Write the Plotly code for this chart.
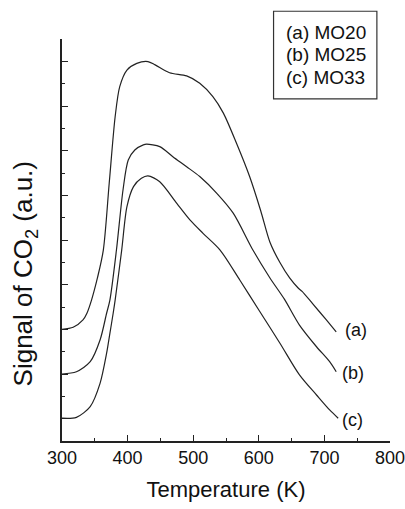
import plotly.graph_objects as go

# Temperature (K) and CO2 signal (a.u., offset curves)
temp_a = [300, 317, 332, 338, 345, 354, 363, 372, 381, 388, 399, 414, 431, 442, 464, 490, 510, 530, 546, 566, 586, 603, 617, 632, 647, 660, 666, 682, 703, 718]
sig_a = [5.00, 5.09, 5.42, 5.72, 6.31, 7.30, 8.55, 11.55, 14.52, 15.87, 16.61, 16.91, 16.99, 16.84, 16.49, 16.35, 16.02, 15.42, 14.68, 13.33, 11.84, 10.30, 8.90, 8.00, 7.30, 6.85, 6.70, 6.15, 5.42, 4.89]

temp_b = [300, 322, 343, 358, 368, 373, 383, 393, 401, 411, 424, 429, 449, 469, 490, 510, 536, 561, 591, 617, 639, 662, 688, 708, 718]
sig_b = [3.00, 3.10, 3.55, 4.52, 5.72, 6.31, 8.55, 11.24, 12.58, 13.03, 13.26, 13.29, 13.18, 12.73, 12.28, 11.84, 11.09, 10.20, 8.55, 7.30, 6.35, 5.19, 4.22, 3.55, 3.10]

temp_c = [300, 322, 343, 358, 368, 373, 378, 381, 391, 399, 409, 421, 431, 449, 475, 495, 515, 541, 571, 601, 632, 662, 688, 708, 721]
sig_c = [1.02, 1.06, 1.54, 2.58, 3.93, 4.82, 5.72, 6.31, 8.55, 10.49, 11.39, 11.76, 11.87, 11.61, 10.64, 9.90, 9.30, 8.55, 7.21, 5.82, 4.39, 2.96, 2.06, 1.39, 1.02]

curve_labels = ["(a)", "(b)", "(c)"]
label_pos_x = [748, 743, 743]
label_pos_y = [4.97, 3.05, 0.94]
legend_lines = ["(a) MO20", "(b) MO25", "(c) MO33"]

x_ticks = [300, 400, 500, 600, 700, 800]

FONT = "Liberation Sans, Arial, Helvetica, sans-serif"
LINE = "#222222"

fig = go.Figure()
for t, s in [(temp_a, sig_a), (temp_b, sig_b), (temp_c, sig_c)]:
    fig.add_trace(go.Scatter(x=t, y=s, mode="lines",
                             line=dict(color=LINE, width=1.2, shape="spline", smoothing=0.8),
                             showlegend=False, hoverinfo="skip"))

for lab, lx, ly in zip(curve_labels, label_pos_x, label_pos_y):
    fig.add_annotation(x=lx, y=ly, xref="x", yref="y", text=lab, showarrow=False,
                       font=dict(family=FONT, size=18, color="#111"), xanchor="center", yanchor="middle")

# legend box
legend_y = [1.015, 0.961, 0.903]
for txt, ly in zip(legend_lines, legend_y):
    fig.add_annotation(x=0.676, y=ly, xref="paper", yref="paper", text=txt, showarrow=False,
                       font=dict(family=FONT, size=19, color="#111"), xanchor="left", yanchor="middle")
fig.add_shape(type="rect", xref="paper", yref="paper", x0=0.645, x1=0.960, y0=0.851, y1=1.069,
              line=dict(color="#333", width=1.2), fillcolor="rgba(0,0,0,0)")

# y-axis title
fig.add_annotation(x=-0.115, y=0.415, xref="paper", yref="paper", text="Signal of CO<sub>2</sub> (a.u.)",
                   textangle=-90, showarrow=False, xanchor="center", yanchor="middle",
                   font=dict(family=FONT, size=26, color="#111"))

fig.update_layout(
    width=405, height=509,
    margin=dict(l=62, r=14.5, t=39.3, b=68),
    paper_bgcolor="white", plot_bgcolor="white",
    font=dict(family=FONT, color="#111"),
)
fig.update_xaxes(range=[300, 800], tickvals=x_ticks, ticks="inside", ticklen=6, tickwidth=1.2,
                 tickcolor="#222", showgrid=False, zeroline=False, showline=True, linecolor="#222",
                 linewidth=1.5, tickfont=dict(family=FONT, size=18, color="#111"),
                 ticklabeloverflow="allow", automargin=False,
                 minor=dict(dtick=50, tick0=300, ticks="inside", ticklen=3, tickcolor="#222", tickwidth=1.2),
                 title=dict(text="Temperature (K)", font=dict(family=FONT, size=22, color="#111"), standoff=14))
fig.update_yaxes(range=[0, 18], tick0=1, dtick=2, ticks="inside", ticklen=6, tickwidth=1.2,
                 tickcolor="#222", showticklabels=False, showgrid=False, zeroline=False,
                 showline=True, linecolor="#222", linewidth=1.5, automargin=False,
                 minor=dict(dtick=1, tick0=0, ticks="inside", ticklen=3, tickcolor="#222", tickwidth=1.2))

fig.write_html("out.html", config={"displayModeBar": False},
               post_script="document.body.style.margin='0';document.body.style.overflow='hidden';")
